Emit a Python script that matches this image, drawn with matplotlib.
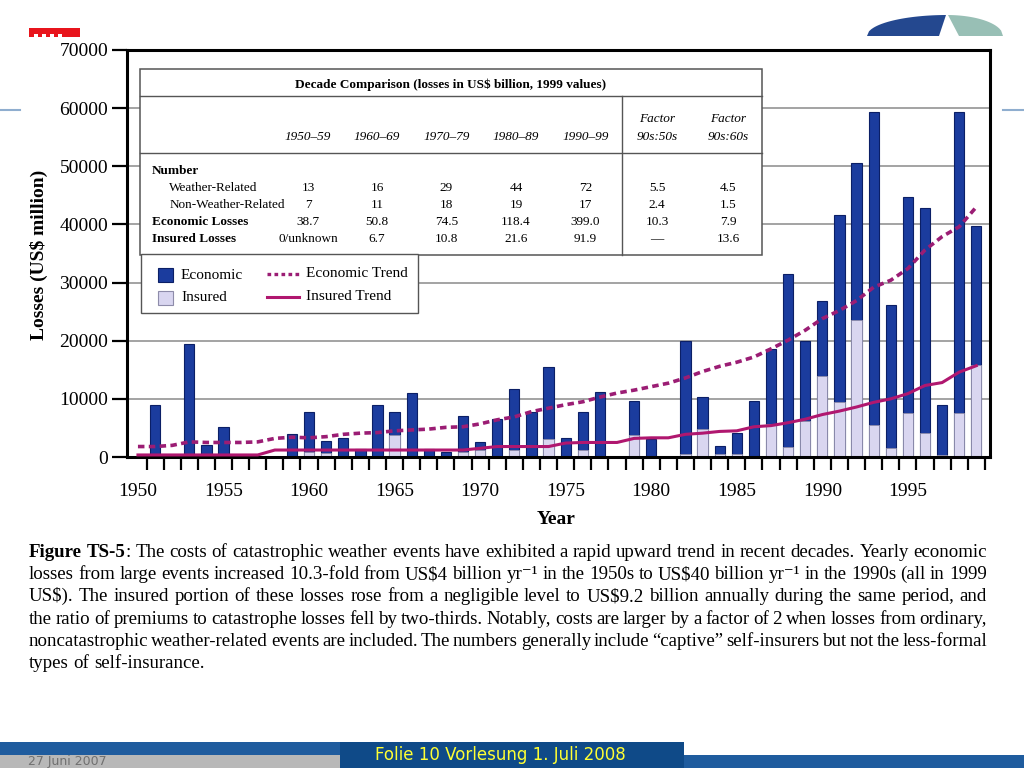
import numpy as np
import matplotlib
matplotlib.use('Agg')
import matplotlib.pyplot as plt
from matplotlib.patches import Rectangle, Polygon
from matplotlib.lines import Line2D

# --- DATA (US$ million, 1999 values) ---
years = list(range(1950, 2000))

economic = [
    0, 9000, 0, 19400, 2000, 5200, 0, 0, 0, 4000,
    7800, 2700, 3300, 1400, 9000, 7800, 11000, 1400, 800, 7100,
    2600, 6500, 11700, 7800, 15500, 3300, 7800, 11100, 0, 9700,
    3100, 0, 20000, 10400, 1900, 4200, 9700, 18600, 31400, 19900,
    26900, 41600, 50600, 59400, 26200, 44800, 42900, 9000, 59400, 39700,
]
insured = [
    0, 0, 0, 0, 0, 0, 0, 0, 0, 0,
    800, 700, 0, 0, 0, 3800, 0, 0, 0, 800,
    1200, 0, 1200, 0, 3100, 0, 1200, 0, 0, 3700,
    0, 0, 500, 4900, 600, 500, 0, 5600, 1700, 6200,
    14000, 9400, 23600, 5500, 1600, 7500, 4200, 400, 7500, 15900,
]
economic_trend = [
    1800, 1800, 2000, 2600, 2500, 2500, 2500, 2600, 3200, 3400,
    3300, 3500, 3900, 4100, 4200, 4500, 4650, 4800, 5100, 5200,
    5700, 6400, 6900, 7800, 8400, 9000, 9500, 10300, 11000, 11500,
    12100, 12700, 13600, 14700, 15600, 16300, 17200, 18600, 20100, 21800,
    23800, 25200, 26900, 29200, 30400, 32400, 35600, 37900, 39600, 43000,
]
insured_trend = [
    350, 350, 350, 350, 350, 350, 350, 350, 1200, 1200,
    1200, 1200, 1200, 1200, 1200, 1200, 1200, 1200, 1200, 1200,
    1500, 1800, 1800, 1800, 1800, 2400, 2500, 2500, 2500, 3200,
    3300, 3300, 3900, 4100, 4400, 4500, 5200, 5400, 5900, 6500,
    7300, 7900, 8600, 9400, 10000, 10900, 12300, 12800, 14600, 15700,
]

# decade comparison table (US$ billion)
decades = ['1950–59', '1960–69', '1970–79', '1980–89', '1990–99']
factor_heads = ['90s:50s', '90s:60s']
row_labels = ['Weather-Related', 'Non-Weather-Related', 'Economic Losses', 'Insured Losses']
weather_related = ['13', '16', '29', '44', '72', '5.5', '4.5']
non_weather_related = ['7', '11', '18', '19', '17', '2.4', '1.5']
economic_losses = ['38.7', '50.8', '74.5', '118.4', '399.0', '10.3', '7.9']
insured_losses = ['0/unknown', '6.7', '10.8', '21.6', '91.9', '—', '13.6']

caption = [
    "The costs of catastrophic weather events have exhibited a rapid upward trend in recent decades. Yearly economic",
    "losses from large events increased 10.3-fold from US$4 billion yr⁻¹ in the 1950s to US$40 billion yr⁻¹ in the 1990s (all in 1999",
    "US$). The insured portion of these losses rose from a negligible level to US$9.2 billion annually during the same period, and",
    "the ratio of premiums to catastrophe losses fell by two-thirds. Notably, costs are larger by a factor of 2 when losses from ordinary,",
    "noncatastrophic weather-related events are included. The numbers generally include “captive” self-insurers but not the less-formal",
    "types of self-insurance.",
]

# --- STYLE ---
SERIF = ['Liberation Serif', 'DejaVu Serif']
plt.rcParams['font.family'] = SERIF
ECON_BLUE = '#1B3C9E'
ECON_EDGE = '#0B1F66'
INS_LAV = '#D9D6F0'
INS_EDGE = '#8E8CAA'
TREND_DOT = '#9B1D74'
TREND_SOLID = '#B0176F'
W, H = 1024, 768


def fx(x):
    return x / W


def fy(y):
    return 1 - y / H


fig = plt.figure(figsize=(W / 100, H / 100), dpi=100)
fig.patch.set_facecolor('white')


def ftext(x, y, s, **kw):
    return fig.text(fx(x), fy(y), s, **kw)


def fline(xs, ys, **kw):
    fig.add_artist(Line2D([fx(v) for v in xs], [fy(v) for v in ys],
                          transform=fig.transFigure, **kw))


def frect(x0, y0, x1, y1, **kw):
    fig.add_artist(Rectangle((fx(x0), fy(y1)), (x1 - x0) / W, (y1 - y0) / H,
                             transform=fig.transFigure, **kw))


# --- slide decoration ---
fline([0, 20], [110, 110], color='#8FAECF', lw=1.5)
fline([1003, 1024], [110, 110], color='#8FAECF', lw=1.5)
frect(29, 28, 80, 37, facecolor='#E8141C', edgecolor='none')
for nx in (34, 42, 50, 58):
    frect(nx, 33.5, nx + 4, 37, facecolor='white', edgecolor='none')


def arch(x):
    r = 80 if x < 947 else 56
    return 36 - 21 * np.sqrt(max(0.0, 1 - ((x - 947) / r) ** 2))


left_x = np.linspace(867, 946, 40)
dark = [(fx(x), fy(arch(x))) for x in left_x] + [(fx(939), fy(36)), (fx(867), fy(36))]
fig.add_artist(Polygon(dark, closed=True, transform=fig.transFigure,
                       facecolor='#24488F', edgecolor='none'))
right_x = np.linspace(948, 1003, 30)
teal = [(fx(948), fy(arch(948)))] + [(fx(x), fy(arch(x))) for x in right_x] + \
       [(fx(1003), fy(36)), (fx(959), fy(36))]
fig.add_artist(Polygon(teal, closed=True, transform=fig.transFigure,
                       facecolor='#98BFB5', edgecolor='none'))

# bottom banner
frect(0, 742, 684, 755, facecolor='#1F5C9E', edgecolor='none')
frect(0, 755, 340, 768, facecolor='#B8B8B8', edgecolor='none')
frect(340, 742, 684, 768, facecolor='#0F4A88', edgecolor='none')
frect(684, 755, 1024, 768, facecolor='#1F5C9E', edgecolor='none')
ftext(28, 761.5, '27 Juni 2007', fontsize=9, color='#707070', family='DejaVu Sans',
      ha='left', va='center')
ftext(500, 755, 'Folie 10 Vorlesung 1. Juli 2008', fontsize=12, color='#FFFF33',
      family='DejaVu Sans', ha='center', va='center')

# --- main chart ---
ax = fig.add_axes([fx(127), fy(457), 863 / W, 407 / H])
ax.bar(years, economic, width=0.6, color=ECON_BLUE, edgecolor=ECON_EDGE,
       linewidth=0.8, zorder=2)
ax.bar(years, insured, width=0.6, color=INS_LAV, edgecolor=INS_EDGE,
       linewidth=0.6, zorder=2.1)
ax.plot(years, economic_trend, color=TREND_DOT, lw=2.6,
        linestyle=(0, (1.8, 1.2)), zorder=3)
ax.plot(years, insured_trend, color=TREND_SOLID, lw=2.2, zorder=3)

ax.set_xlim(1949.36, 1999.8)
ax.set_ylim(0, 70000)
ax.set_yticks(range(0, 70001, 10000))
ax.set_xticks(np.arange(1950.5, 2000, 1))
ax.set_xticklabels([])
ax.set_xticks(range(1950, 1996, 5), minor=True)
ax.set_xticklabels([str(y) for y in range(1950, 1996, 5)], minor=True)
ax.tick_params(axis='x', which='major', direction='out', length=9.5, width=1.6)
ax.tick_params(axis='x', which='minor', length=0, pad=19, labelsize=14)
ax.tick_params(axis='y', direction='out', length=10.5, width=1.6, pad=3, labelsize=14)
ax.yaxis.grid(True, color='#8A8A8A', lw=1.1)
ax.set_axisbelow(True)
for s in ax.spines.values():
    s.set_linewidth(2.2)

ax.set_ylabel('Losses (US$ million)', fontsize=14, fontweight='bold')
ax.yaxis.set_label_coords(-0.092, 0.496)
ax.set_xlabel('Year', fontsize=14, fontweight='bold')
ax.xaxis.set_label_coords(0.497, -0.133)

# --- decade comparison table ---
TBL_EDGE = '#555555'
frect(140, 69, 762, 255, facecolor='white', edgecolor=TBL_EDGE, lw=1.1)
fline([140, 762], [96, 96], color=TBL_EDGE, lw=1.0)
fline([140, 762], [152.7, 152.7], color=TBL_EDGE, lw=1.0)
fline([621.7, 621.7], [96, 255], color=TBL_EDGE, lw=1.0)
ftext(451, 85, 'Decade Comparison (losses in US$ billion, 1999 values)',
      fontsize=9.5, fontweight='bold', ha='center', va='center')

col_x = [308, 377, 446.5, 516, 585.5, 657, 728]
for cx, d in zip(col_x[:5], decades):
    ftext(cx, 136.5, d, fontsize=9.5, style='italic', ha='center', va='center')
for cx, f in zip(col_x[5:], factor_heads):
    ftext(cx, 119, 'Factor', fontsize=9.5, style='italic', ha='center', va='center')
    ftext(cx, 136.5, f, fontsize=9.5, style='italic', ha='center', va='center')

ftext(151.7, 170.7, 'Number', fontsize=9.5, fontweight='bold', ha='left', va='center')
row_y = [187.7, 205, 222.3, 239.3]
row_x = [169.3, 169.3, 151.7, 151.7]
row_w = ['normal', 'normal', 'bold', 'bold']
rows = [weather_related, non_weather_related, economic_losses, insured_losses]
for ry, rx, rw, label, vals in zip(row_y, row_x, row_w, row_labels, rows):
    ftext(rx, ry, label, fontsize=9.5, fontweight=rw, ha='left', va='center')
    for cx, v in zip(col_x, vals):
        ftext(cx, ry, v, fontsize=9.5, ha='center', va='center')

# --- key ---
frect(141, 254, 418, 313, facecolor='white', edgecolor=TBL_EDGE, lw=1.0)
frect(158, 268, 173, 282, facecolor=ECON_BLUE, edgecolor=ECON_EDGE, lw=0.8)
frect(158, 291, 173, 305, facecolor=INS_LAV, edgecolor=INS_EDGE, lw=0.8)
ftext(181, 275, 'Economic', fontsize=11, ha='left', va='center')
ftext(181, 298, 'Insured', fontsize=11, ha='left', va='center')
fline([267, 299], [274, 274], color=TREND_DOT, lw=2.4, linestyle=(0, (1.1, 1.0)))
fline([267, 299], [297, 297], color=TREND_SOLID, lw=2.2)
ftext(306, 274, 'Economic Trend', fontsize=11, ha='left', va='center')
ftext(306, 297, 'Insured Trend', fontsize=11, ha='left', va='center')

# --- justified caption ---
renderer = fig.canvas.get_renderer()
CAP_SIZE = 13.6
X0, X1 = 29, 987
for i, line in enumerate(caption):
    base = 557 + 22.2 * i
    words = [[(w, 'normal')] for w in line.split(' ')]
    if i == 0:
        words = [[('Figure', 'bold')], [('TS-5', 'bold'), (':', 'normal')]] + words
    placed = []
    widths = []
    for word in words:
        parts = []
        wsum = 0
        for seg, wt in word:
            t = ftext(0, base, seg, fontsize=CAP_SIZE, fontweight=wt,
                      ha='left', va='baseline')
            pw = t.get_window_extent(renderer).width
            parts.append((t, wsum))
            wsum += pw
        placed.append(parts)
        widths.append(wsum)
    if i < len(caption) - 1:
        gap = (X1 - X0 - sum(widths)) / (len(words) - 1)
    else:
        sp = ftext(0, base, 'a a', fontsize=CAP_SIZE).get_window_extent(renderer).width - \
            ftext(0, base, 'aa', fontsize=CAP_SIZE).get_window_extent(renderer).width
        gap = sp
        for t in fig.texts[-2:]:
            t.remove()
    x = X0
    for parts, wdt in zip(placed, widths):
        for t, off in parts:
            t.set_x(fx(x + off))
        x += wdt + gap

fig.savefig('out.png', dpi=100, facecolor='white')
